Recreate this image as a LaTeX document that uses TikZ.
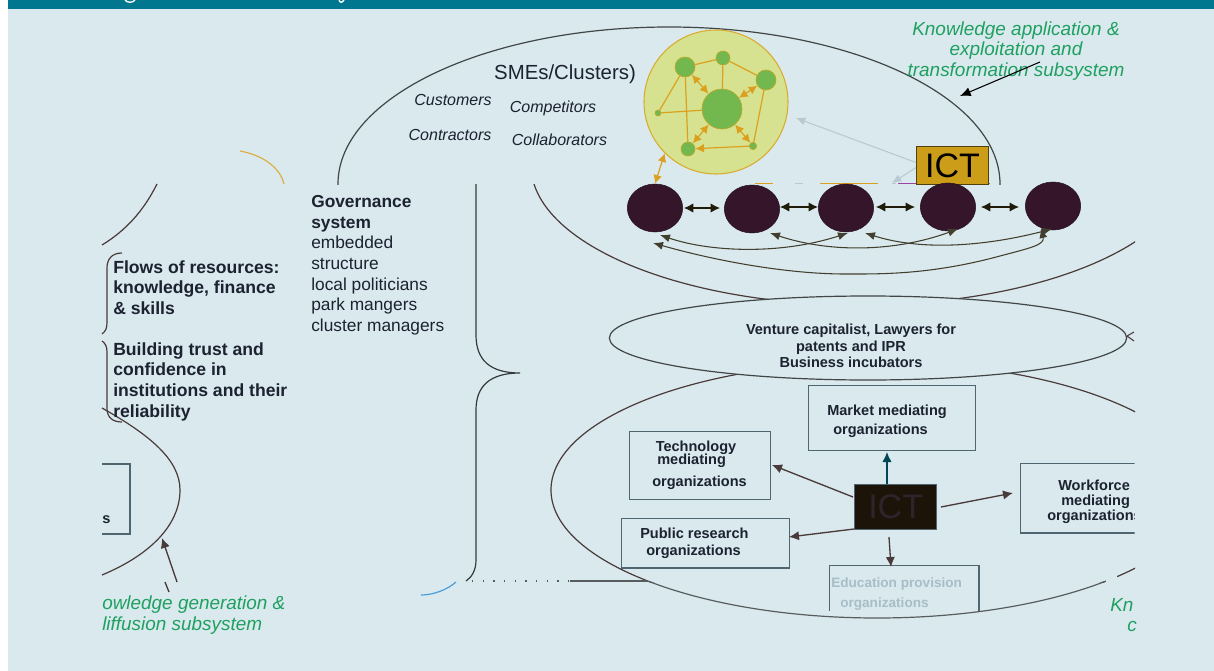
\documentclass[tikz,border=0pt]{standalone}
\usepackage{fontspec}
\setmainfont{Liberation Sans}
\usetikzlibrary{arrows.meta,shapes.geometric}
\definecolor{bgc}{HTML}{D9E9EE}
\definecolor{barc}{HTML}{00778F}
\definecolor{linec}{HTML}{4A3A3A}
\definecolor{boxc}{HTML}{4F6570}
\definecolor{gold}{HTML}{DBA11E}
\definecolor{disc}{HTML}{D6E290}
\definecolor{leaf}{HTML}{72B84E}
\definecolor{plum}{HTML}{35152A}
\definecolor{ictg}{HTML}{CC9D18}
\definecolor{ictd}{HTML}{1C1408}
\definecolor{ictl}{HTML}{30242C}
\definecolor{green2}{HTML}{1FA060}
\definecolor{txt}{HTML}{1C2230}
\definecolor{pale}{HTML}{B9C9D2}
\definecolor{headc}{HTML}{201A08}
\definecolor{edut}{HTML}{A9BDC6}
\tikzset{
  fs/.style={font=\fontsize{#1}{#1}\selectfont},
  curve/.style={draw=linec,line width=0.9pt},
  orgbox/.style={draw=boxc,line width=1pt,fill=bgc,inner sep=0pt,anchor=north west},
  orgtext/.style={font=\fontsize{10.9}{10.9}\selectfont\bfseries,text=txt,inner sep=0pt,anchor=west},
  plumnode/.style={ellipse,fill=plum,draw=plum!70!black,inner sep=0pt,minimum width=41.5pt,minimum height=36pt},
  leafnode/.style={circle,fill=leaf,draw=gold!70!leaf,line width=0.5pt,inner sep=0pt,minimum size=#1},
  dbl/.style={{Latex[length=7pt,width=7pt]}-{Latex[length=7pt,width=7pt]},draw=headc,line width=0.8pt},
  curved/.style={{Latex[length=7.5pt,width=6pt]}-{Latex[length=7.5pt,width=6pt]},draw=black!70!olive,line width=0.8pt},
  goldline/.style={draw=gold,line width=0.9pt},
  golddbl/.style={{Latex[length=6.5pt,width=6.5pt]}-{Latex[length=6.5pt,width=6.5pt]},draw=gold,line width=0.9pt},
  ictarrow/.style={-{Latex[length=7.5pt,width=7pt]},draw=linec,line width=1pt},
  greentext/.style={text=green2,font=\fontsize{14.2}{15.6}\selectfont\itshape,inner sep=0pt},
  smalli/.style={font=\fontsize{12}{12}\selectfont\itshape,text=txt,inner sep=0pt},
  bodytext/.style={text=txt,align=left,anchor=north west,inner sep=0pt},
}
\begin{document}
\begin{tikzpicture}[x=0.75pt,y=-0.75pt]
\useasboundingbox (0,0) rectangle (1214,671);
\fill[white] (0,0) rectangle (1214,671);
\fill[bgc] (8,9) rectangle (1214,671);
\fill[barc] (8,0) rectangle (1214,9);
\draw[white,line width=1pt] (125,0) .. controls (127,3) and (133,3) .. (135,0);
\draw[white,line width=1pt] (339,0) .. controls (340,3) and (342,3) .. (344,0);

% large outlines
\begin{scope}
\clip (300,20) rectangle (1010,184);
\draw[curve,draw=black!70!bgc] (669,184) ellipse [x radius=331,y radius=157];
\end{scope}
\begin{scope}
\clip (500,184) rectangle (1135,320);
\draw[curve] (860,165) ellipse [x radius=329,y radius=140];
\end{scope}
\begin{scope}
\clip (500,340) rectangle (1135,582);
\draw[curve] (877,490) ellipse [x radius=326,y radius=128];
\end{scope}
\begin{scope}
\clip (500,581) rectangle (1135,640);
\draw[draw=black!60!bgc,line width=0.9pt] (877,490) ellipse [x radius=326,y radius=128];
\end{scope}
\fill[bgc] (1106,570) rectangle (1117,590);

% left fragments
\draw[curve] (157,184) .. controls (143,212) and (125,231) .. (102,245);
\draw[draw=gold!80!bgc,line width=0.9pt] (240,151) .. controls (262,155) and (280,167) .. (284,184);
\draw[curve] (102,408) .. controls (150,435) and (180,460) .. (180,490) .. controls (180,525) and (150,555) .. (102,575);
\draw[draw=linec,line width=0.9pt] (122,253) .. controls (112,253) and (107,259) .. (107,268) -- (107,322) .. controls (107,328) and (106,331) .. (102,334);
\draw[draw=linec,line width=0.9pt] (102,341) .. controls (105,343) and (107,346) .. (107,352) -- (107,408) .. controls (107,417) and (112,422) .. (122,422);
\draw[draw=boxc,line width=1pt] (102,464) -- (130,464) -- (130,534) -- (102,534);
\node[orgtext,anchor=base west] (sfrag) at (102,523) {s};

% big brace
\draw[draw=black!75!bgc,line width=0.9pt] (476,184) -- (476,335) .. controls (476,360) and (490,373) .. (520,373) .. controls (490,373) and (476,386) .. (476,410) -- (476,560) .. controls (476,570) and (472,577) .. (466,581);
\draw[draw=cyan!70!blue!70!bgc,line width=0.9pt] (421,595) .. controls (433,595) and (447,590) .. (456,582);
\draw[draw=black!60!bgc,line width=0.9pt,dash pattern=on 1pt off 7pt] (472,581) -- (570,581);
\draw[draw=black!60!bgc,line width=0.9pt] (570,581) -- (648,581);

% artefact strips
\draw[draw=gold,line width=1pt] (755,183.5) -- (773,183.5) (820,183.5) -- (878,183.5);
\draw[draw=violet!70!bgc,line width=1pt] (898,183.5) -- (916,183.5);
\draw[draw=pale,line width=1pt] (795,183.5) -- (803,183.5) (892,183.5) -- (896,183.5);
\draw[draw=cyan!60!black,line width=1pt] (975,183.5) -- (990,183.5);

% texts upper
\node[fs=15.3,text=txt,inner sep=0pt] (smes) at (565,74) {SMEs/Clusters)};
\node[smalli] (t1) at (453,100) {Customers};
\node[smalli] (t2) at (553,108) {Competitors};
\node[smalli] (t3) at (450,135) {Contractors};
\node[smalli] (t4) at (559.5,140) {Collaborators};
\node[greentext,align=center] (ka) at (1016,51) {Knowledge application \&\\exploitation and\\transformation subsystem};
\node[bodytext,font=\fontsize{13}{15.5}\selectfont] (gov) at (311,195) {\textbf{Governance}\\\textbf{system}\\embedded\\structure\\local politicians\\park mangers\\cluster managers};
\node[bodytext,font=\fontsize{13.2}{15.6}\selectfont\bfseries] (fl) at (113,260) {Flows of resources:\\knowledge, finance\\\& skills};
\node[bodytext,font=\fontsize{13.2}{15.6}\selectfont\bfseries] (bu) at (113,342) {Building trust and\\confidence in\\institutions and their\\reliability};
\node[greentext,anchor=west] (g1t) at (102,605) {owledge generation \&};
\node[greentext,anchor=west] (g2t) at (102,626) {liffusion subsystem};
\node[greentext,anchor=west] (g3t) at (1110,605) {Kn};
\node[greentext,anchor=west] (g4t) at (1127,626) {c};
\coordinate (la) at (177,582);
\coordinate (lb) at (162,538);
\coordinate (lc) at (165,582);
\coordinate (ld) at (169,592);
\draw[ictarrow] (la) -- (lb);
\draw[draw=linec,line width=1pt] (lc) -- (ld);

% knowledge-application cluster
\node[circle,fill=disc,draw=gold!85!disc,line width=0.8pt,inner sep=0pt,minimum size=108pt] (disc) at (716,102) {};
\node[leafnode=30pt] (hub) at (722,109) {};
\node[leafnode=15pt] (l1) at (685,67) {};
\node[leafnode=10.5pt] (l2) at (723,58) {};
\node[leafnode=15pt] (l3) at (766,80) {};
\node[leafnode=4.5pt] (l4) at (658,113) {};
\node[leafnode=10.5pt] (l5) at (688,149) {};
\node[leafnode=5.5pt] (l6) at (753,146) {};
\draw[goldline] (l1) -- (l2);
\draw[goldline] (l2) -- (l3);
\draw[goldline] (l2) -- (hub);
\draw[goldline] (l1) -- (l4);
\draw[goldline] (l1) -- (l5);
\draw[goldline] (l4) -- (hub);
\draw[goldline] (l3) -- (l6);
\draw[goldline,-{Latex[length=6.5pt,width=6.5pt]}] (l6) -- (l5);
\draw[golddbl] (l1) -- (hub);
\draw[golddbl] (l3) -- (hub);
\draw[golddbl] (l5) -- (hub);
\draw[golddbl] (l6) -- (hub);

% ICT gold box
\node[draw=black!60!ictg,line width=0.8pt,fill=ictg,inner sep=0pt,minimum width=54pt,minimum height=28.5pt,anchor=north west,fs=25.5] (ictTop) at (916,146) {ICT};
\coordinate (g1) at (796,118);
\coordinate (g2) at (892,183);
\coordinate (k1) at (1040,62);
\coordinate (k2) at (960,96);
\draw[-{Latex[length=7pt,width=6pt]},draw=pale,line width=0.8pt] (ictTop.west) ++(0,-3) -- (g1);
\draw[-{Latex[length=7pt,width=6pt]},draw=pale,line width=0.8pt] (ictTop.west) ++(0,2) -- (g2);
\draw[-{Latex[length=8pt,width=7pt]},draw=black,line width=0.8pt] (k1) -- (k2);

% plum nodes
\node[plumnode] (p1) at (655,208) {};
\node[plumnode] (p2) at (752,209) {};
\node[plumnode] (p3) at (846,208) {};
\node[plumnode] (p4) at (948,207) {};
\node[plumnode] (p5) at (1053,206) {};
\draw[golddbl] (disc.south west) -- (p1.north);
\draw[dbl] (p1.east) ++(1,0) -- ++(36,0);
\draw[dbl] (p2.east) ++(0,-2) -- ++(38,0);
\draw[dbl] (p3.east) ++(2,-1) -- ++(39,0);
\draw[dbl] (p4.east) ++(5,0) -- ++(38,0);
\coordinate (a1) at (660,235);
\coordinate (a2) at (653,243);
\coordinate (a3) at (770,233);
\coordinate (a4) at (865,233);
\coordinate (b3) at (848,233);
\coordinate (b4) at (958,229);
\coordinate (b5) at (1052,229);
\draw[curved] (a1) .. controls (710,252) and (780,255) .. (b3);
\draw[curved] (a3) .. controls (830,253) and (895,252) .. (b4);
\draw[curved] (a4) .. controls (925,252) and (990,245) .. (b5);
\draw[curved] (a2) .. controls (720,262) and (790,274) .. (845,274) .. controls (880,274) and (930,275) .. (1000,256) .. controls (1030,248) and (1045,245) .. (1041,228);

% venture ellipse
\node[ellipse,draw=black!70!bgc,line width=0.9pt,fill=bgc,inner sep=0pt,minimum width=388pt,minimum height=63pt] (vent) at (868,338) {};
\node[text=txt,align=center,inner sep=0pt,font=\fontsize{10.9}{12.6}\selectfont\bfseries] (venttext) at (851,346) {Venture capitalist, Lawyers for\\patents and IPR\\Business incubators};
\draw[draw=linec,line width=0.8pt] (1127,336) -- (1134,332) (1127,336) -- (1134,341);

% organisation boxes
\node[orgbox,minimum width=125pt,minimum height=48.5pt] (market) at (808,385) {};
\node[orgtext] (m1) at (827,412) {Market mediating};
\node[orgtext] (m2) at (833,431) {organizations};
\node[orgbox,minimum width=105.5pt,minimum height=51pt] (tech) at (629,431) {};
\node[orgtext] (te1) at (655.5,448) {Technology};
\node[orgtext] (te2) at (657,461) {mediating};
\node[orgtext] (te3) at (652,483) {organizations};
\node[orgbox,minimum width=126pt,minimum height=37pt] (pubres) at (621,518) {};
\node[orgtext] (pr1) at (640,533) {Public research};
\node[orgtext] (pr2) at (646,552) {organizations};
\begin{scope}
\clip (1000,450) rectangle (1134.5,545);
\node[orgbox,minimum width=130pt,minimum height=52pt] (work) at (1020,463) {};
\node[orgtext] (w1) at (1058,485) {Workforce};
\node[orgtext] (w2) at (1061,502) {mediating};
\node[orgtext] (w3) at (1047,517) {organizations};
\end{scope}
\begin{scope}
\clip (820,560) rectangle (990,610);
\node[draw=boxc,line width=1pt,inner sep=0pt,minimum width=112pt,minimum height=50pt,anchor=north west] (edu) at (829,565) {};
\end{scope}
\node[orgtext,text=edut,font=\fontsize{10.2}{10.2}\selectfont\bfseries] (e1) at (831,584) {Education provision};
\node[orgtext,text=edut,font=\fontsize{10.2}{10.2}\selectfont\bfseries] (e2) at (840,604) {organizations};

\node[draw=boxc,line width=1pt,fill=ictd,inner sep=0pt,minimum width=61.5pt,minimum height=33.5pt,anchor=north west,text=ictl,fs=25.5] (ictLow) at (854,484) {ICT};
\coordinate (ar1) at (853,497);
\coordinate (tr1) at (772,465);
\coordinate (ar2) at (854,529);
\coordinate (tr2) at (789,537);
\coordinate (ar3) at (941,507);
\coordinate (tr3) at (1013,493);
\coordinate (ar4) at (889,537);
\coordinate (tr4) at (891,567);
\coordinate (ar5) at (887,484);
\coordinate (tr5) at (887,452);
\draw[ictarrow] (ar1) -- (tr1);
\draw[ictarrow] (ar2) -- (tr2);
\draw[ictarrow] (ar3) -- (tr3);
\draw[ictarrow] (ar4) -- (tr4);
\draw[ictarrow,draw=black!40!barc] (ar5) -- (tr5);
\end{tikzpicture}
\end{document}
